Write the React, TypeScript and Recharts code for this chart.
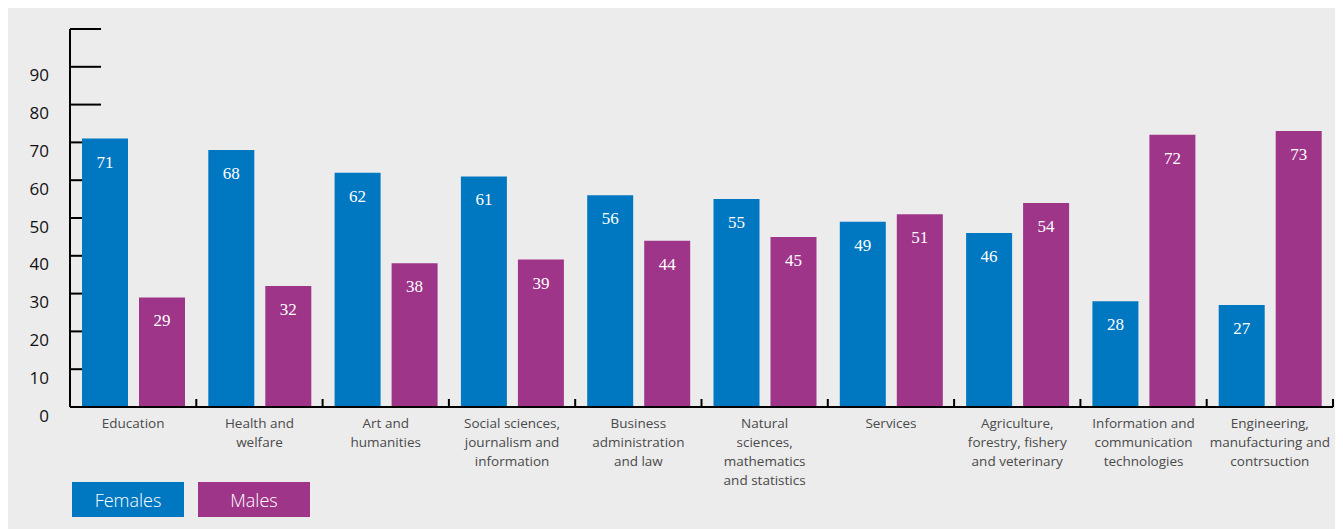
import { BarChart, Bar, XAxis, YAxis, LabelList, CartesianGrid } from 'recharts'

const categories = [
  'Education',
  'Health and\nwelfare',
  'Art and\nhumanities',
  'Social sciences,\njournalism and\ninformation',
  'Business\nadministration\nand law',
  'Natural\nsciences,\nmathematics\nand statistics',
  'Services',
  'Agriculture,\nforestry, fishery\nand veterinary',
  'Information and\ncommunication\ntechnologies',
  'Engineering,\nmanufacturing and\ncontrsuction',
]
const females = [71, 68, 62, 61, 56, 55, 49, 46, 28, 27]
const males = [29, 32, 38, 39, 44, 45, 51, 54, 72, 73]
const yTicks = [0, 10, 20, 30, 40, 50, 60, 70, 80, 90, 100]

const BLUE = '#0078C1'
const PURPLE = '#9E3589'
const BG = '#ECECEC'

const data = categories.map((name, i) => ({ name, females: females[i], males: males[i] }))

const W = 1335
const H = 521
const HALF_BAND = (1263 / categories.length) / 2

// short tick marks drawn as grid lines so the bars sit on top of them
function TickMark(props: any) {
  const { x1, y1 } = props
  return <line x1={x1} y1={y1} x2={x1 + 31} y2={y1} stroke="#000" strokeWidth={2} />
}

function YTick(props: any) {
  const { x, y, payload } = props
  if (payload.value === 100) return <g />
  return (
    <text
      x={x - 21}
      y={y + 8}
      textAnchor="end"
      dominantBaseline="central"
      fill="#111"
      fontSize={17}
      fontFamily="'Open Sans', sans-serif"
    >
      {payload.value}
    </text>
  )
}

function XTick(props: any) {
  const { x, y, payload } = props
  const lines = String(payload.value).split('\n')
  const bx = x + HALF_BAND
  return (
    <g>
      <line x1={bx} y1={y} x2={bx} y2={y - 8} stroke="#000" strokeWidth={2} />
      <text
        textAnchor="middle"
        fill="#4A4A4A"
        fontSize={13.5}
        fontFamily="'Open Sans', sans-serif"
      >
        {lines.map((l, i) => (
          <tspan key={i} x={x} y={y + 16 + i * 19} dominantBaseline="central">
            {l}
          </tspan>
        ))}
      </text>
    </g>
  )
}

const legendItems = [
  { label: 'Females', color: BLUE },
  { label: 'Males', color: PURPLE },
]

export default function App() {
  return (
    <div style={{ position: 'relative', width: W, height: H, background: BG }}>
      <BarChart
        width={W}
        height={H}
        data={data}
        margin={{ top: 21, right: 10, left: 0, bottom: 0 }}
        barSize={46}
        barGap={11}
      >
        <CartesianGrid vertical={false} horizontal={(p: any) => <TickMark key={p.key} {...p} />} />
        <XAxis
          dataKey="name"
          height={122}
          interval={0}
          tickLine={false}
          tickSize={0}
          tickMargin={0}
          axisLine={{ stroke: '#000', strokeWidth: 2 }}
          tick={<XTick />}
        />
        <YAxis
          width={62}
          domain={[0, 100]}
          ticks={yTicks}
          interval={0}
          tickLine={false}
          tickSize={0}
          tickMargin={0}
          axisLine={{ stroke: '#000', strokeWidth: 2 }}
          tick={<YTick />}
        />
        <Bar dataKey="females" fill={BLUE} isAnimationActive={false}>
          <LabelList
            dataKey="females"
            position="insideTop"
            offset={17}
            fill="#fff"
            fontSize={17}
            fontFamily="'Liberation Serif', serif"
          />
        </Bar>
        <Bar dataKey="males" fill={PURPLE} isAnimationActive={false}>
          <LabelList
            dataKey="males"
            position="insideTop"
            offset={17}
            fill="#fff"
            fontSize={17}
            fontFamily="'Liberation Serif', serif"
          />
        </Bar>
      </BarChart>
      <div style={{ position: 'absolute', left: 64, top: 474, display: 'flex', gap: 14 }}>
        {legendItems.map((it) => (
          <div
            key={it.label}
            style={{
              width: 112,
              height: 35,
              background: it.color,
              color: '#fff',
              fontFamily: "'Open Sans', sans-serif",
              fontWeight: 300,
              fontSize: 18,
              display: 'flex',
              alignItems: 'center',
              justifyContent: 'center',
            }}
          >
            {it.label}
          </div>
        ))}
      </div>
    </div>
  )
}
